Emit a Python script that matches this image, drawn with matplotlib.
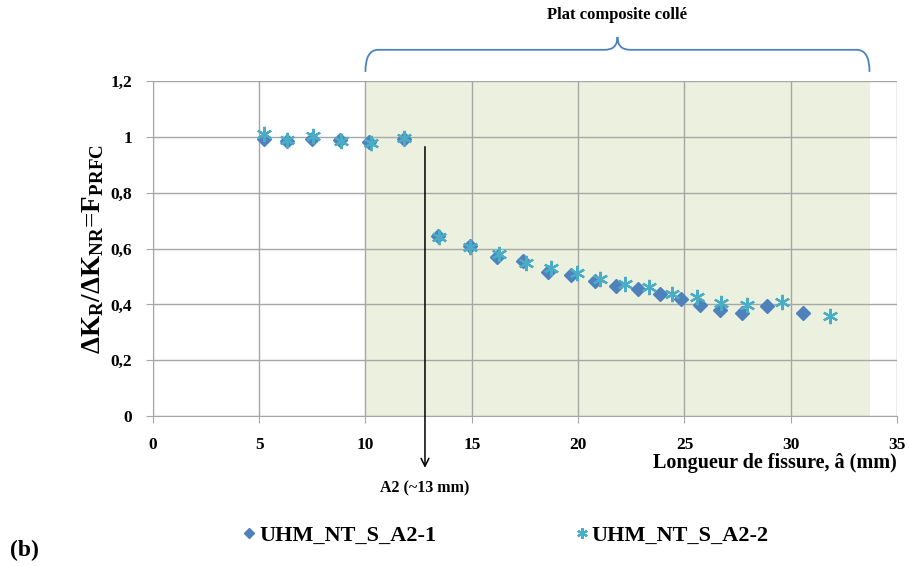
import numpy as np
import matplotlib
matplotlib.use('Agg')
import matplotlib.pyplot as plt
from matplotlib.path import Path
from matplotlib.patches import PathPatch
from matplotlib.ticker import FuncFormatter

plt.rcParams['font.family'] = ['Liberation Serif', 'DejaVu Serif']
plt.rcParams['font.weight'] = 'bold'
plt.rcParams['mathtext.fontset'] = 'custom'
plt.rcParams['mathtext.rm'] = 'Liberation Serif:bold'
plt.rcParams['mathtext.it'] = 'Liberation Serif:bold'
plt.rcParams['mathtext.bf'] = 'Liberation Serif:bold'

# data
a1_x = [5.24, 6.33, 7.49, 8.81, 10.17, 11.8, 13.39, 14.91, 16.2, 17.42, 18.6, 19.66,
        20.79, 21.78, 22.8, 23.85, 24.82, 25.73, 26.67, 27.69, 28.9, 30.59]
a1_y = [0.993, 0.987, 0.993, 0.989, 0.981, 0.993, 0.645, 0.610, 0.571, 0.556, 0.517, 0.505,
        0.485, 0.466, 0.454, 0.436, 0.418, 0.398, 0.382, 0.370, 0.394, 0.368]
a2_x = [5.24, 6.33, 7.54, 8.84, 10.25, 11.8, 13.45, 14.91, 16.29, 17.53, 18.72, 19.93,
        21.05, 22.2, 23.34, 24.43, 25.57, 26.7, 27.92, 29.57, 31.84]
a2_y = [1.01, 0.988, 1.003, 0.986, 0.98, 0.995, 0.643, 0.605, 0.581, 0.547, 0.532, 0.511,
        0.491, 0.473, 0.461, 0.437, 0.425, 0.404, 0.398, 0.41, 0.358]
labels = ['UHM_NT_S_A2-1', 'UHM_NT_S_A2-2']
zone = (10, 33.7)      # plat composite collé
a2_pos = 12.8          # A2 (~13 mm)

fig = plt.figure(figsize=(9.09, 5.67), dpi=100)
ax = fig.add_axes([0.168, 0.266, 0.819, 0.591])

ax.axvspan(zone[0], zone[1], color='#EBF1DE', zorder=0.2, lw=0)
ax.set_axisbelow(True)
ax.grid(True, color='#A6A6A6', lw=1)

ax.plot(a1_x, a1_y, ls='none', marker='D', ms=7, color='#4F81BD', label=labels[0], zorder=3)
ax.plot(a2_x, a2_y, ls='none', marker=(6, 2, 0), ms=11, mew=1.6, color='#4BACC6',
        label=labels[1], zorder=4)

ax.set_xlim(0, 35)
ax.set_ylim(0, 1.2)
ax.set_xticks(np.arange(0, 36, 5))
ax.set_yticks(np.arange(0, 1.21, 0.2))
ax.yaxis.set_major_formatter(FuncFormatter(lambda v, p: ('%g' % round(v, 1)).replace('.', ',')))
ax.tick_params(axis='both', length=5, color='#A6A6A6', labelsize=12.5)
ax.tick_params(axis='x', pad=10)
ax.tick_params(axis='y', pad=10)
for s in ['top', 'right']:
    ax.spines[s].set_visible(False)
for s in ['left', 'bottom']:
    ax.spines[s].set_color('#A6A6A6')

ax.set_ylabel(r'$\mathrm{\Delta K_R/\Delta K_{NR}}$=$\mathrm{F_{PRFC}}$', fontsize=19.5, labelpad=3)
ax.text(35, -0.168, 'Longueur de fissure, â (mm)', ha='right', va='center', fontsize=14.5)

# arrow A2
ax.annotate('', xy=(a2_pos, -0.195), xytext=(a2_pos, 0.975),
            arrowprops=dict(arrowstyle='->', color='black', lw=1.1, mutation_scale=14),
            annotation_clip=False)
ax.text(a2_pos, -0.258, 'A2 (~13 mm)', ha='center', va='center', fontsize=11.5)

# bracket on top
mid = (zone[0] + zone[1]) / 2
y0, y1, y2 = 1.233, 1.312, 1.358
verts = [(zone[0], y0), (zone[0], y1), (zone[0] + 0.6, y1),
         (mid - 0.6, y1), (mid, y1), (mid, y2),
         (mid, y1), (mid + 0.6, y1),
         (zone[1] - 0.6, y1), (zone[1], y1), (zone[1], y0)]
codes = [Path.MOVETO, Path.CURVE3, Path.CURVE3,
         Path.LINETO, Path.CURVE3, Path.CURVE3,
         Path.CURVE3, Path.CURVE3,
         Path.LINETO, Path.CURVE3, Path.CURVE3]
ax.add_patch(PathPatch(Path(verts, codes), fill=False, edgecolor='#4F81BD', lw=1.3,
                       clip_on=False))
ax.text(mid, 1.437, 'Plat composite collé', ha='center', va='center', fontsize=12)

fig.legend(loc='center', bbox_to_anchor=(0.557, 0.056), ncol=2, frameon=False,
           fontsize=16, handlelength=0.5, handletextpad=0.2, columnspacing=6.3,
           markerscale=0.7)
fig.text(0.011, 0.03, '(b)', ha='left', va='center', fontsize=17)

fig.savefig('out.png', dpi=100)
